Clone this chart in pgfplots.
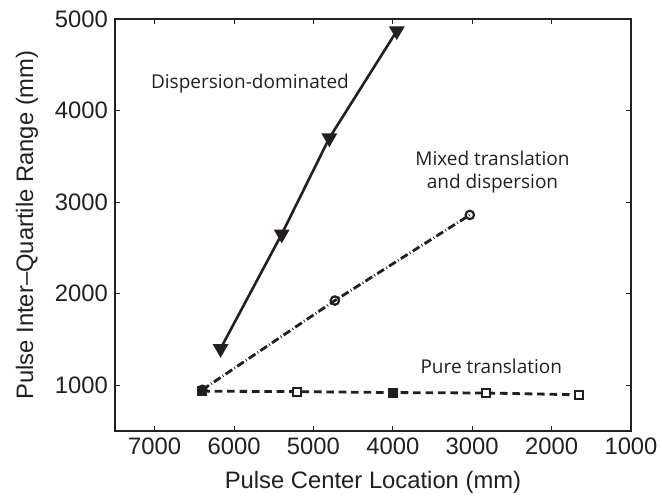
\documentclass[border=0pt]{standalone}
\usepackage{pgfplots}
\pgfplotsset{compat=1.18}
\usepackage{fontspec}
\setmainfont{Liberation Sans}
\newfontfamily\annfont{Open Sans}
\definecolor{ink}{HTML}{231F20}
\begin{document}
\begin{tikzpicture}
\useasboundingbox (-57.5pt,-33.5pt) rectangle (273.5pt,215.5pt);
\begin{axis}[
  scale only axis, width=258pt, height=206pt,
  x dir=reverse,
  xmin=1000, xmax=7500, ymin=500, ymax=5000,
  xtick={1000,2000,...,7000}, ytick={1000,2000,...,5000},
  tick align=inside, major tick length=2.5pt,
  axis line style={ink, line width=0.6pt},
  tick style={ink, line width=0.5pt},
  /pgf/number format/assume math mode=true,
  /pgf/number format/set thousands separator={},
  ticklabel style={font=\fontsize{11.9}{14}\selectfont, text=ink},
  label style={font=\fontsize{11.9}{14}\selectfont, text=ink},
  xlabel={Pulse Center Location (mm)},
  ylabel={Pulse Inter--Quartile Range (mm)},
  xlabel style={at={(axis description cs:0.5,-0.1238)}, anchor=center},
  ylabel style={at={(axis description cs:-0.1705,0.5)}, anchor=center},
  clip=false,
]
% Dispersion-dominated
\addplot[ink, line width=1.3pt, mark=triangle*, mark size=3.3pt,
  mark options={rotate=180, solid, fill=ink}]
  coordinates {(6170,1400) (5400,2650) (4800,3700) (3950,4870)};
% Mixed translation and dispersion
\addplot[ink, line width=1.4pt, dash pattern=on 4pt off 1.3pt on 0.4pt off 1.3pt,
  mark=o, mark size=2.1pt, mark options={solid, line width=1.1pt}]
  coordinates {(6400,950) (4730,1925) (3030,2860)};
% Pure translation
\addplot[ink, line width=1.4pt, dash pattern=on 3.8pt off 2.4pt,
  mark=square*, mark size=2pt, mark options={solid, fill=white, line width=1pt}]
  coordinates {(6400,935) (5210,930) (4000,920) (2830,915) (1650,895)};
\addplot[only marks, mark=square*, mark size=2pt, mark options={fill=ink, draw=ink}]
  coordinates {(6400,935) (4000,920)};
\node[font=\annfont\fontsize{9.5}{11.5}\selectfont, text=ink] at (axis cs:5800,4290) {Dispersion-dominated};
\node[font=\annfont\fontsize{9.5}{11.5}\selectfont, text=ink, align=center] at (axis cs:2745,3330) {Mixed translation\\and dispersion};
\node[font=\annfont\fontsize{9.5}{11.5}\selectfont, text=ink] at (axis cs:2760,1210) {Pure translation};
\end{axis}
\end{tikzpicture}
\end{document}
